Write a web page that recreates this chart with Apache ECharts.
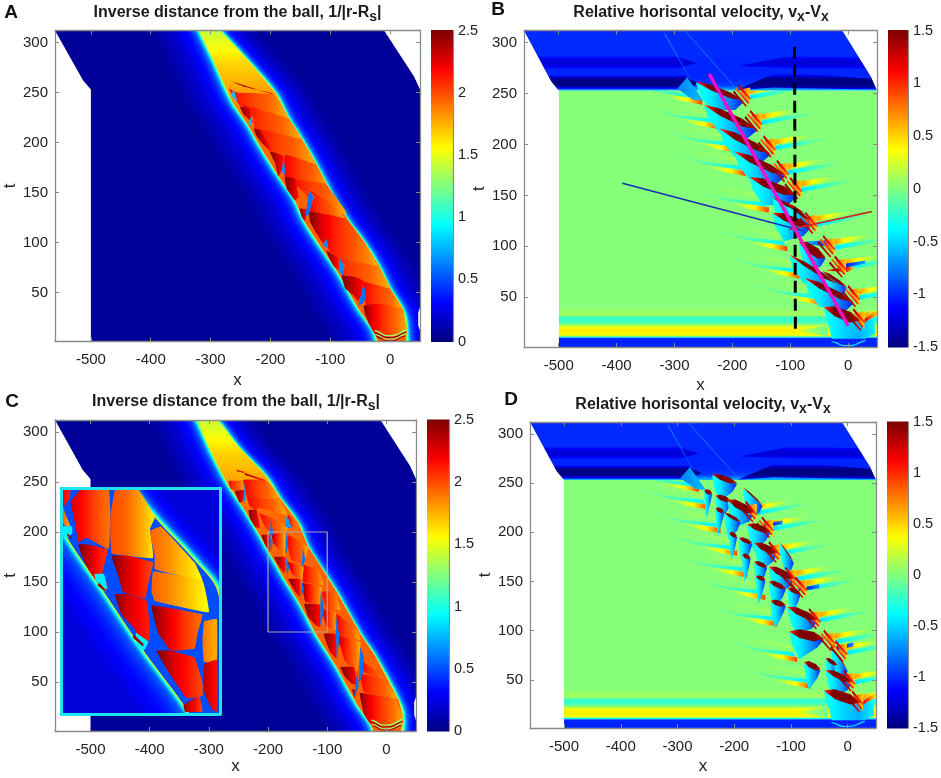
<!DOCTYPE html>
<html>
<head>
<meta charset="utf-8">
<title>Ball trajectories</title>
<script src="https://cdn.jsdelivr.net/npm/echarts@6/dist/echarts.min.js"></script>
<style>
html, body { margin: 0; background: #fff; }
#chart { width: 941px; height: 778px; }
canvas { filter: blur(0.45px); }
</style>
</head>
<body>
<div id="chart"></div>
<script>
// axis ticks
const xTicks = [-500, -400, -300, -200, -100, 0];
const tTicks = [50, 100, 150, 200, 250, 300];
const distTicks = [0, 0.5, 1, 1.5, 2, 2.5];
const velTicks = [-1.5, -1, -0.5, 0, 0.5, 1, 1.5];

// regions of the fields: [value(s), [x,t, x,t, ...], gradient axis]
// several values = gradient along x (or t), null = outside the domain
const deep = [2.5, 2.25, 2.1, 2.0, 1.9, 1.75];
const warm = [2.2, 2.05, 1.95, 1.75];
const tip = [2.5, 2.35, 2.15];

const domainOutline = [-560, 312, 50, 312, 50, 1, -560, 1];
const domainMask = [
  [null, [-560, 312, -513, 262, -500, 253, -500, 1, -560, 1]],
  [null, [-10, 312, 40, 266, 50, 253, 50, 312]]
];

// contours of the glow around the trail: level and distance from the trail's edge
const glowLevels = [0.09, 0.12, 0.15, 0.18, 0.21, 0.24, 0.27, 0.3, 0.33, 0.36, 0.4, 0.45, 0.5, 0.55, 0.62, 0.7, 0.78, 0.86, 0.95, 1.05, 1.15, 1.25, 1.35];
const glowLeft = [80, 70, 60, 52, 45, 39, 33, 28, 24, 20, 17, 14, 11.5, 9.5, 8, 6.5, 5.2, 4, 3.2, 2.5, 1.8, 1.2, 0.8];
const glowRight = [60, 52, 45, 39, 34, 29, 25, 21, 18, 15, 13, 11, 9, 7.5, 6.2, 5, 4, 3.2, 2.5, 1.9, 1.4, 1, 0.6];

// panel A
const aEdgeLeft = [-341, 340, -319, 312, -296, 283, -263, 240, -238, 218, -213, 192, -187, 167, -159, 142, -142, 120, -114, 94, -89, 72, -54, 35, -28, 12, -12, -10];
const aEdgeRight = [-327, 340, -284, 312, -239, 283, -192, 250, -171, 226, -147, 203, -125, 180, -95, 146, -70, 122, -45, 102, -20, 78, 0, 54, 22, 32, 28, 12, 24, -10];
const bodyValues = [1.95, 1.95, 1.95, 1.95, 1.92, 1.65, 1.2];
const aSheets = [
  [warm, [-270, 254, -256, 250, -194, 248, -170, 224, -251, 237]],
  [warm, [-248, 238, -170, 224, -148, 203, -226, 214, -228, 224]],
  [warm, [-226, 214, -148, 203, -125, 178, -173, 188, -201, 191]],
  [warm, [-176, 188, -125, 178, -103, 154, -134, 149, -176, 167]],
  [warm, [-167, 163, -109, 159, -72, 129, -123, 129, -142, 149]],
  [warm, [-134, 152, -100, 139, -75, 124, -135, 131, -125, 146]],
  [deep, [-135, 131, -75, 124, -45, 102, -20, 76, -84, 84, -102, 92, -106, 103, -112, 99, -125, 111, -134, 121]],
  [warm, [-102, 92, -84, 84, -20, 76, 0, 54, -45, 62, -81, 67, -75, 77]],
  [warm, [-45, 61, 0, 53, 21, 34, -17, 39, -40, 37, -44, 49]],
  [deep, [-44, 37, -17, 39, 19, 33, 29, 12, 19, 4, -20, 4, -34, 17, -42, 29]],
  [[2.45, 2.2], [-265, 261, -195, 248, -198, 249.5, -245, 256]],
  [tip, [-251, 236, -237, 234, -228, 219, -245, 228]],
  [tip, [-228, 214, -217, 212, -198, 192, -209, 196, -223, 206]],
  [tip, [-201, 191, -178, 187, -181, 172, -187, 166, -192, 179]],
  [tip, [-176, 166, -159, 164, -153, 146, -159, 142, -173, 154]],
  [tip, [-151, 134, -139, 133, -142, 121, -148, 126]],
  [tip, [-106, 92, -86, 84, -86, 72, -95, 77, -103, 86]],
  [tip, [-81, 67, -61, 66, -45, 62, -47, 49, -53, 41, -61, 47, -75, 54]]
];
const aNotches = [
  [0.8, [-262, 254, -255, 241, -265, 246]],
  [0.8, [-231, 227, -231, 216, -237, 219]],
  [0.65, [-178, 187, -181, 171, -175, 167]],
  [0.6, [-135, 152, -142, 125, -135, 129, -128, 146]],
  [0.65, [-106, 104, -112, 97, -104, 94]],
  [0.65, [-84, 84, -86, 72, -79, 67, -77, 77]],
  [0.6, [-44, 59, -53, 37, -45, 39, -40, 46]]
];
const ballArcs = [
  [1.3, [-25, 12.5, 0, 7.5, 28, 13.5, 28, 12.3, 0, 6.2, -25, 11.2], 'x', 0.6],
  [2.45, [-25, 10.6, 0, 5.6, 27, 11, 27, 10, 0, 4.6, -25, 9.6], 'x', 0.6],
  [1.3, [-24, 8.6, 0, 3.8, 26, 9, 26, 8, 0, 2.8, -24, 7.4], 'x', 0.6],
  [2.45, [-22, 6.6, 0, 2.2, 24, 7, 24, 6, 0, 1.4, -22, 5.6], 'x', 0.6]
];

// panel C
const cEdgeLeft = [-345, 340, -320, 312, -300, 285, -281, 262, -264, 244, -247, 229, -219, 202, -197, 179, -174, 155, -146, 128, -117, 96, -84, 65, -50, 28, -27, 8, -12, -10];
const cEdgeRight = [-325, 340, -285, 312, -250, 285, -205, 257, -180, 234, -149, 209, -132, 185, -86, 142, -44, 98, -19, 76, 21, 31, 29, 13, 20, -10];
const cSheets = [
  [warm, [-267, 251, -239, 251, -239, 242, -256, 241, -264, 244]],
  [warm, [-242, 252, -205, 252, -180, 234, -236, 236]],
  [warm, [-236, 236, -208, 234, -180, 232, -168, 217, -214, 224, -222, 222, -231, 226]],
  [warm, [-215, 219, -194, 214, -166, 205, -171, 200, -197, 200, -205, 205]],
  [warm, [-166, 217, -149, 207, -166, 204]],
  [warm, [-166, 197, -132, 185, -140, 169, -160, 172, -168, 189]],
  [warm, [-140, 167, -115, 162, -106, 147, -140, 150]],
  [warm, [-109, 140, -86, 140, -78, 122, -101, 123]],
  [warm, [-84, 118, -47, 100, -44, 92, -84, 98]],
  [warm, [-41, 71, -5, 55, 1, 51, -38, 60]],
  [warm, [-44, 58, -2, 53, 18, 33, -38, 40]],
  [deep, [-194, 198, -171, 199, -171, 175, -177, 179, -191, 189]],
  [deep, [-167, 170, -140, 165, -143, 152, -151, 154, -160, 159]],
  [deep, [-141, 149, -109, 145, -112, 128, -137, 130, -140, 138]],
  [deep, [-109, 123, -86, 120, -84, 102, -101, 105]],
  [deep, [-84, 97, -44, 90, -49, 61, -55, 63, -70, 71, -75, 81]],
  [deep, [-45, 39, 15, 33, 29, 13, 18, 3, -27, 8, -38, 18]],
  [tip, [-256, 241, -239, 242, -242, 231, -248, 229]],
  [tip, [-233, 222, -219, 222, -214, 204, -222, 205, -231, 214]],
  [tip, [-211, 197, -197, 197, -197, 180, -205, 187]],
  [tip, [-190, 175, -171, 175, -171, 159, -180, 164]],
  [tip, [-166, 153, -146, 153, -146, 135, -154, 140]],
  [tip, [-139, 128, -112, 127, -112, 105, -120, 107, -132, 115]],
  [tip, [-106, 98, -86, 98, -84, 73, -95, 80]],
  [tip, [-78, 65, -55, 65, -49, 48, -58, 48, -70, 55]],
  [tip, [-58, 43, -50, 41, -54, 34]],
  [[2.4, 2.1], [-253, 262, -239, 260, -240, 259, -253, 261]],
  [[2.4, 2.1], [-239, 259, -205, 252, -206, 251, -239, 257]]
];
const cGaps = [
  [0.7, [-239, 251, -242, 229, -237, 232]],
  [0.6, [-195, 213, -197, 197, -191, 197]],
  [0.6, [-197, 197, -195, 180, -192, 189]],
  [0.6, [-169, 200, -171, 175, -166, 187]],
  [0.6, [-170, 175, -168, 157, -164, 165]],
  [0.6, [-141, 184, -143, 165, -137, 172]],
  [0.6, [-143, 152, -145, 135, -139, 143]],
  [0.6, [-111, 142, -112, 105, -105, 122]],
  [0.6, [-86, 118, -84, 73, -79, 95]],
  [0.6, [-44, 85, -47, 48, -40, 58, -38, 75]],
  [0.6, [-49, 61, -55, 35, -47, 45]],
  [0.7, [-168, 217, -160, 204, -172, 205]]
];

// zoomed part of panel C, the small box and the big inset
const zoomBoxX = [-200, -100, -100, -200, -200];
const zoomBoxT = [100, 100, 200, 200, 100];
const insetRangeX = [-200, -100];
const insetRangeT = [100, 200];
const insetGround = 0.22;
const insetLevels = [0.25, 0.28, 0.31, 0.34, 0.37, 0.4, 0.44, 0.48, 0.53, 0.6, 0.7, 0.8, 0.9, 1, 1.1, 1.2, 1.3, 1.4, 1.5, 1.6];
const insetLeft = [30, 26, 22, 18, 15, 12.5, 10, 8, 6, 4.5, 3.5, 2.8, 2.2, 1.8, 1.4, 1.1, 0.8, 0.6, 0.4, 0.2];
const insetRight = [18, 15.5, 13, 11, 9.5, 8, 7, 6, 5.2, 4.5, 3.8, 3.2, 2.7, 2.2, 1.8, 1.4, 1.1, 0.8, 0.5, 0.3];
const insetEdgeLeft = [-232, 215, -212, 200, -196, 178, -173, 154, -148, 128, -119, 100, -105, 80];
const insetEdgeRight = [-172, 215, -156, 200, -141, 187, -116, 168, -101, 153, -95, 100, -80, 80];
const insetSheets = [
  [[2.2, 2.1], [-199, 199, -194, 199, -195, 195, -198, 192]],
  [[1.95, 1.75], [-199, 192, -197, 188, -194, 183, -197, 183, -199, 185]],
  [0.9, [-199, 183, -193, 183, -193, 180, -196, 178, -199, 179]],
  [[2.3, 2.15, 2.0, 1.9], [-194, 194, -188, 199, -170, 199, -169, 190, -170, 173, -184, 178, -189, 176, -191, 184]],
  [[2.5, 2.35, 2.15, 2.05], [-189, 175, -183, 175, -171, 173, -171, 171, -174, 162, -170, 156, -173, 154, -176, 157, -182, 163, -187, 170]],
  [0.9, [-179, 162, -173, 162, -171, 156, -173, 154, -178, 159]],
  [[2.0, 1.95, 1.8, 1.6], [-169, 187, -166, 199, -151, 199, -141, 187, -144, 182, -142, 169, -168, 171, -169, 179]],
  [[2.5, 2.3, 2.15, 2.0], [-168, 170, -158, 170, -142, 167, -145, 158, -147, 151, -161, 154, -164, 161, -167, 167]],
  [[2.5, 2.3, 2.2, 2.1], [-166, 153, -158, 153, -146, 150, -144, 136, -145, 132, -150, 132, -154, 138, -162, 144]],
  [0.9, [-153, 136, -145, 132, -148, 128, -152, 130]],
  [[1.95, 1.85, 1.7, 1.55], [-144, 181, -137, 183, -116, 167, -111, 159, -141, 164, -141, 170]],
  [[1.95, 1.85, 1.7, 1.55], [-142, 163, -111, 159, -107, 145, -141, 150, -143, 154]],
  [[2.5, 2.25, 2.05, 1.9], [-143, 148, -111, 144, -114, 136, -116, 129, -131, 128, -139, 136]],
  [[2.5, 2.3, 2.15, 2.0], [-140, 128, -131, 128, -116, 125, -111, 114, -111, 108, -121, 107, -131, 117]],
  [[1.9, 1.75], [-110, 141, -102, 142, -102, 123, -110, 123, -111, 132]],
  [[2.35, 2.15], [-110, 122, -102, 124, -102, 101, -105, 102, -110, 110]],
  [[2.45, 2.0], [-123, 104, -113, 108, -111, 101, -122, 101]],
  [2.45, [-196, 180, -193, 178, -193, 177.5, -196, 179]],
  [2.45, [-176, 158, -172, 155, -172.5, 154.5, -177, 157]],
  [2.45, [-154, 135, -148, 131, -148.5, 130, -155, 134]]
];

// panel B and D: background strips
const velTopValues = [-0.55, -0.95, -1.0, -1.02, -1.02, -1.02, -1.02, -1.0, -1.0, -1.0, -1.0, -1.0, -1.0];
const velStripValues = [-0.7, 0.25, 0.4, 0.42, 0.42, 0.38, 0.12, -0.05, -0.2, -0.22, -0.2, 0.05, 0.1, 0.08, 0.04, 0.02];
const darkStripe = [-0.9, -1.45, -1.5, -1.45, -1.02];
const faintStripe = [-1.02, -1.2, -1.25, -1.2, -1.02];
const velGround = [
  [0.02, [-500, 10, 50, 10, 50, 253, -500, 253]],
  [-1.02, [-500, 1, 50, 1, 50, 10, -500, 10]],
  [velStripValues, [-500, 10, 50, 10, 50, 40, -500, 40], 't'],
  [[0.42, 0.1, -0.05], [-95, 17, -35, 12, -35, 22]]
];
const velUpper = [
  [velTopValues, [-560, 253, 50, 253, 50, 312, -560, 312], 't'],
  [darkStripe, [-560, 254, -285, 254, -258, 260, -285, 268, -560, 268], 't'],
  [darkStripe, [-195, 253, -130, 256, -60, 255, 50, 254, 50, 264, -60, 269, -130, 269], 't'],
  [faintStripe, [-560, 274, -300, 274, -262, 280, -300, 287, -560, 287], 't'],
  [faintStripe, [-190, 277, -100, 275, 50, 274, 50, 285, -100, 287], 't'],
  [[-0.75, -0.55], [-295, 255, -278, 266, -250, 243, -268, 244]],
  [[-0.7, -0.85], [-318, 309, -272, 263, -271, 263, -316, 309]],
  [[-0.8, -0.65], [-283, 312, -197, 257, -196, 257, -281, 312]]
];
const velFoot = [
  [[-0.35, -0.5, -0.6, -0.4], [-36, 27, -28, 9, 30, 9, 47, 14, 45, 27]],
  [-0.45, [-28, 7, 0, 3, 30, 8, 30, 7, 0, 2, -28, 6], 'x', 0.6]
];

// panel B
const bStreaks = [
  [-263, 262, -180, 243, 6], [-249, 239, -157, 215, 8], [-223, 216, -134, 191, 8], [-197, 193, -108, 170, 8],
  [-171, 168, -88, 150, 9], [-131, 148, -76, 133, 4], [-105, 142, -65, 125, 4], [-131, 133, -65, 119, 8],
  [-85, 104, -39, 89, 11], [-102, 92, -19, 63, 5], [-45, 76, -2, 60, 4], [-76, 69, 10, 45, 7], [-42, 40, 21, 27, 11]
];
const bLeftTips = [[-255, 241], [-226, 217], [-197, 194], [-180, 171], [-140, 135], [-108, 97], [-85, 70], [-48, 44]];
const bRightTips = [[-174, 247], [-154, 222], [-131, 197], [-108, 173], [-85, 156], [-59, 122], [-28, 99], [-8, 79], [15, 50], [24, 27]];
const bExtras = [
  [[0.5, 1.3, 1.2, 0.4], [-42, 76, 0, 80, 13, 79, 0, 75]],
  [[1.4, 0.9, 0.5], [24, 27, 50, 37, 50, 32, 27, 25]],
  [[-0.5, -1.1], [-70, 105, -30, 106, -35, 100, -75, 102]],
  [[-1.2, -0.6], [-15, 82, 30, 86, 30, 83, -15, 78]]
];
// annotation lines of panel B
const dashedX = [-92.5, -91];
const dashedT = [296, 15];
const magentaX = [-240, 0];
const magentaT = [269.5, 22];
const blueX = [-390, -77];
const blueT = [162, 115];
const redX = [41, -102];
const redT = [134, 116.5];

// panel D
const dStreaks = [
  [-239, 259, -195, 250, 6], [-253, 242, -239, 240, 5], [-233, 237, -206, 232, 6], [-212, 233, -165, 220, 9],
  [-233, 224, -218, 221, 5], [-218, 220, -189, 211, 4], [-177, 208, -136, 201, 7], [-209, 199, -195, 196, 5],
  [-192, 194, -168, 189, 5], [-165, 189, -124, 179, 8], [-186, 177, -171, 174, 5], [-165, 170, -142, 165, 5],
  [-139, 165, -95, 153, 8], [-162, 155, -145, 152, 5], [-139, 150, -109, 143, 6], [-106, 143, -83, 138, 5],
  [-136, 130, -109, 126, 6], [-106, 124, -53, 111, 8], [-103, 99, -42, 92, 10], [-77, 68, -48, 61, 7],
  [-39, 72, -18, 65, 5], [-39, 60, 8, 48, 7], [-42, 39, 23, 27, 11],
  [-185, 246, -150, 228, 2], [-120, 190, -95, 170, 2], [-30, 85, 0, 60, 2]
];
const dLeftTips = [[-265, 242], [-250, 225], [-227, 201], [-198, 178], [-180, 156], [-148, 133], [-127, 106], [-92, 70], [-68, 43]];
const dRightTips = [[-165, 220], [-136, 204], [-124, 179], [-95, 153], [-77, 143], [-53, 111], [-27, 89], [-6, 78], [8, 48], [23, 27]];
const dExtras = [
  [[1.3, 0.9, 0.4], [23, 27, 50, 37, 50, 32, 27, 25]],
  [[-1.3, -0.7], [-148, 208, -115, 212, -115, 208, -145, 205]],
  [[-1.3, -0.7], [-88, 143, -50, 147, -50, 143, -85, 140]],
  [[-1.3, -0.7], [-20, 84, 10, 88, 10, 84, -18, 80]]
];

const distRange = [0, 2.5];
const velRange = [-1.5, 1.5];
const xRange = [-560, 50];
const tRange = [1, 312];

function jetColor(u) {
  const c = (k) => Math.round(255 * Math.min(1, Math.max(0, 1.5 - Math.abs(4 * u - k))));
  return 'rgb(' + c(3) + ',' + c(2) + ',' + c(1) + ')';
}

// contour polygons from the two edges of the trail
function glow(left, right, levels, offL, offR) {
  return levels.map((level, i) => {
    const pts = [];
    for (let k = 0; k < left.length; k += 2) pts.push(left[k] - offL[i], left[k + 1]);
    for (let k = right.length - 2; k >= 0; k -= 2) pts.push(right[k] + offR[i], right[k + 1]);
    return [level, pts, 'x', 0.35];
  });
}
function bandPolygon(left, right) {
  return glow(left, right, [0], [0], [0])[0][1];
}
// slightly rounded outlines for the sheets of the trail
function soft(list) {
  return list.map((r) => [r[0], r[1], r[2] || 'x', 0.07]);
}

// shapes of the velocity panel, built from the tables of tips and streaks
function leftRays(tips) {
  const out = [];
  tips.forEach(([x, t]) => {
    out.push([[0, 0.04, 0.1], [x - 140, t + 30, x - 5, t + 15, x - 5, t + 11, x - 70, t + 19]]);
    out.push([[0, -0.07, -0.18, -0.45], [x - 135, t + 21, x - 70, t + 12, x - 5, t + 8, x, t + 4, x - 60, t + 8]]);
    out.push([[0.03, 0.15, 0.4, 0.95], [x - 70, t + 9, x - 30, t + 6, x + 3, t + 3, x + 3, t - 2, x - 35, t + 2]]);
  });
  return out;
}
function rightRays(tips) {
  const out = [];
  tips.forEach(([x, t]) => {
    out.push([[0.8, 0.4, 0.15, 0.03], [x - 3, t + 2, x + 6, t + 8, x + 40, t + 11, x + 70, t + 12, x + 35, t + 6]]);
    out.push([[-0.5, -0.25, -0.1, 0], [x, t + 1, x + 50, t + 6, x + 105, t + 10, x + 50, t + 2, x, t - 3]]);
  });
  return out;
}
function wedges(streaks) {
  return streaks.map(([x0, t0, x1, t1]) => {
    const len = x1 - x0;
    return [[-0.3, -0.45, -0.7, -1.05], [x0, t0 - 1, x1, t1 - 1, x1 - 0.18 * len, t1 - 9, x0 + 0.3 * len, t0 - 28, x0 + 0.08 * len, t0 - 13]];
  });
}
function streakShapes(streaks) {
  return streaks.map(([x0, t0, x1, t1, w]) => {
    const at = (f, d) => [x0 + f * (x1 - x0), t0 + f * (t1 - t0) + d];
    return [[0.9, 1.5, 1.5, 1.5, 1.3], [x0, t0, ...at(0.3, w * 0.45), ...at(0.72, w * 0.45), x1, t1, ...at(0.72, -w * 0.5), ...at(0.3, -w * 0.45)]];
  });
}
function fans(tips) {
  const out = [];
  tips.forEach(([x, t]) => {
    out.push([[0.95, 0.5], [x - 13, t + 7, x + 5, t + 9, x + 4, t - 9]]);
    out.push([[1.5, 1.2], [x - 25, t + 4, x - 3, t - 10, x - 1, t - 9, x - 23, t + 6]]);
    out.push([[0.8, 1.1], [x - 21, t + 7, x + 1, t - 7, x + 3, t - 6, x - 19, t + 9]]);
    out.push([[1.4, 0.9], [x - 16, t + 10, x + 4, t - 3, x + 6, t - 2, x - 14, t + 12]]);
  });
  return out;
}

const panelA = [
  [0.06, domainOutline],
  ...glow(aEdgeLeft, aEdgeRight, glowLevels, glowLeft, glowRight),
  [bodyValues, bandPolygon(aEdgeLeft, aEdgeRight), 't'],
  ...soft(aSheets),
  ...aNotches,
  ...ballArcs,
  ...domainMask,
  [null, [50, 35, 47, 30, 47, 17, 50, 12]]
];
const panelC = [
  [0.06, domainOutline],
  ...glow(cEdgeLeft, cEdgeRight, glowLevels, glowLeft, glowRight),
  [bodyValues, bandPolygon(cEdgeLeft, cEdgeRight), 't'],
  ...soft(cSheets),
  ...cGaps,
  ...ballArcs,
  ...domainMask,
  [null, [50, 35, 47, 30, 47, 17, 50, 12]]
];
const panelInset = [
  [insetGround, [-200, 200, -100, 200, -100, 100, -200, 100]],
  ...glow(insetEdgeLeft, insetEdgeRight, insetLevels, insetLeft, insetRight),
  [0.5, bandPolygon(insetEdgeLeft, insetEdgeRight), 'x', 0.35],
  ...soft(insetSheets)
];
const panelB = [
  ...velGround,
  ...leftRays(bLeftTips),
  ...rightRays(bRightTips),
  ...velUpper,
  ...wedges(bStreaks),
  ...velFoot,
  ...bExtras,
  ...fans(bRightTips),
  ...streakShapes(bStreaks),
  ...domainMask
];
const panelD = [
  ...velGround,
  ...leftRays(dLeftTips),
  ...rightRays(dRightTips),
  ...velUpper,
  ...wedges(dStreaks),
  ...velFoot,
  ...dExtras,
  ...fans(dRightTips),
  ...streakShapes(dStreaks),
  ...domainMask
];

const font = '"Liberation Sans", Arial, sans-serif';
const inkColor = '#222';
const frameColor = '#8a8a8a';
const grids = [];
const xAxes = [];
const yAxes = [];
const series = [];

function addFrame(gridIndex, rangeX, rangeT, lineColor, lineWidth, ticksX, ticksT) {
  const line = { show: true, onZero: false, lineStyle: { color: lineColor, width: lineWidth } };
  const base = { type: 'value', gridIndex, z: 6, splitLine: { show: false }, axisLine: line };
  const tickOf = (values) => (values ? { show: true, inside: true, length: 4, customValues: values, lineStyle: { color: frameColor } } : { show: false });
  const first = xAxes.length;
  xAxes.push({ ...base, min: rangeX[0], max: rangeX[1], position: 'bottom', axisTick: tickOf(ticksX), axisLabel: { show: false } });
  xAxes.push({ ...base, min: rangeX[0], max: rangeX[1], position: 'top', axisTick: tickOf(ticksX), axisLabel: { show: false } });
  yAxes.push({ ...base, min: rangeT[0], max: rangeT[1], position: 'left', axisTick: tickOf(ticksT), axisLabel: { show: false } });
  yAxes.push({ ...base, min: rangeT[0], max: rangeT[1], position: 'right', axisTick: tickOf(ticksT), axisLabel: { show: false } });
  return first;
}

function regionSeries(regions, range, axisIndex, z) {
  return {
    type: 'custom',
    xAxisIndex: axisIndex,
    yAxisIndex: axisIndex,
    coordinateSystem: 'cartesian2d',
    clip: true,
    silent: true,
    animation: false,
    z,
    data: regions.map((r, i) => [i]),
    renderItem(params, api) {
      const [vals, flat, axis, round] = regions[params.dataIndex];
      const points = [];
      for (let k = 0; k < flat.length; k += 2) points.push(api.coord([flat[k], flat[k + 1]]));
      const norm = (v) => (v - range[0]) / (range[1] - range[0]);
      let fill;
      if (vals === null) {
        fill = '#fff';
      } else if (!Array.isArray(vals)) {
        fill = jetColor(norm(vals));
      } else {
        const along = axis === 't' ? 1 : 0;
        const coords = points.map((p) => p[along]);
        const a = Math.min(...coords), b = Math.max(...coords);
        const list = along === 1 ? [...vals].reverse() : vals;
        const stops = [];
        const sub = 6;
        for (let i = 0; i < list.length - 1; i++) {
          for (let j = 0; j <= sub; j++) {
            const f = j / sub;
            stops.push({ offset: (i + f) / (list.length - 1), color: jetColor(norm(list[i] + (list[i + 1] - list[i]) * f)) });
          }
        }
        fill = along === 1
          ? new echarts.graphic.LinearGradient(0, a, 0, b, stops, true)
          : new echarts.graphic.LinearGradient(a, 0, b, 0, stops, true);
      }
      return { type: 'polygon', z2: params.dataIndex, shape: { points, smooth: round || 0 }, style: { fill, stroke: 'none' } };
    }
  };
}

function addPanel(box, regions, range) {
  const gridIndex = grids.length;
  grids.push({ left: box[0], top: box[1], width: box[2], height: box[3], containLabel: false });
  const first = addFrame(gridIndex, xRange, tRange, frameColor, 1.3, xTicks, tTicks);
  Object.assign(xAxes[first], {
    name: 'x', nameLocation: 'middle', nameGap: box[4],
    nameTextStyle: { fontFamily: font, fontSize: 17, color: inkColor },
    axisLabel: { show: true, customValues: xTicks, margin: 11, fontFamily: font, fontSize: 15, color: inkColor }
  });
  Object.assign(yAxes[first], {
    name: 't', nameLocation: 'middle', nameGap: box[5],
    nameTextStyle: { fontFamily: font, fontSize: 17, color: inkColor },
    axisLabel: { show: true, customValues: tTicks, margin: 7, fontFamily: font, fontSize: 15, color: inkColor }
  });
  series.push(regionSeries(regions, range, first, 2));
  return first;
}

function addColorbar(box, range, ticks) {
  const gridIndex = grids.length;
  grids.push({ left: box[0], top: box[1], width: box[2], height: box[3] });
  const first = xAxes.length;
  xAxes.push({ type: 'value', gridIndex, min: 0, max: 1, z: 6, show: false });
  yAxes.push({
    type: 'value', gridIndex, min: range[0], max: range[1], position: 'right', z: 6,
    splitLine: { show: false },
    axisLine: { show: true, onZero: false, lineStyle: { color: frameColor, width: 1.2 } },
    axisTick: { show: false },
    axisLabel: { customValues: ticks, margin: 5, fontFamily: font, fontSize: 14.5, color: inkColor }
  });
  const count = 128;
  const step = (range[1] - range[0]) / count;
  const levels = [];
  for (let i = 0; i < count; i++) levels.push(range[0] + i * step);
  series.push({
    type: 'custom', xAxisIndex: first, yAxisIndex: first, silent: true, animation: false, z: 2,
    data: levels.map((v) => [0, v]),
    renderItem(params, api) {
      const v = api.value(1);
      const a = api.coord([0, v]);
      const b = api.coord([1, v + step]);
      return {
        type: 'rect',
        shape: { x: a[0], y: b[1] - 0.5, width: b[0] - a[0], height: a[1] - b[1] + 1 },
        style: { fill: jetColor((v + step / 2 - range[0]) / (range[1] - range[0])) }
      };
    }
  });
}

function addLine(axisIndex, xs, ts, color, width, type, z) {
  series.push({
    type: 'line', xAxisIndex: axisIndex, yAxisIndex: axisIndex, silent: true, animation: false, z: z || 4,
    symbol: 'none',
    data: xs.map((x, i) => [x, ts[i]]),
    lineStyle: { color, width, type: type || 'solid', cap: 'butt' }
  });
}

const axisA = addPanel([55, 30.5, 365, 311, 30, 30], panelA, distRange);
const axisB = addPanel([524, 30.5, 353, 316.5, 30, 30], panelB, velRange);
const axisC = addPanel([55, 420, 361, 311, 24, 30], panelC, distRange);
const axisD = addPanel([530, 422, 346, 306, 30, 30], panelD, velRange);

addColorbar([431, 30.5, 22, 311], distRange, distTicks);
addColorbar([888, 30.5, 21, 316.5], velRange, velTicks);
addColorbar([427, 420, 22, 311], distRange, distTicks);
addColorbar([887, 422, 21, 306], velRange, velTicks);

addLine(axisB, blueX, blueT, '#1a2fb8', 1.6);
addLine(axisB, redX, redT, '#c8281e', 1.6);
addLine(axisB, dashedX, dashedT, '#000', 3, [12, 6]);
addLine(axisB, magentaX, magentaT, '#f010c8', 3.4);

addLine(axisC, zoomBoxX, zoomBoxT, '#a8a8a8', 1.2);

// the inset of panel C has its own axes over the zoomed range
grids.push({ left: 61, top: 488, width: 159, height: 226 });
const axisInset = addFrame(grids.length - 1, insetRangeX, insetRangeT, '#22e4f0', 3);
series.push(regionSeries(panelInset, distRange, axisInset, 8));
[xAxes[axisInset], xAxes[axisInset + 1], yAxes[axisInset], yAxes[axisInset + 1]].forEach((a) => { a.z = 9; });

const titleStyle = {
  fontFamily: font, fontSize: 16, fontWeight: 'bold', color: '#1c1c1c',
  rich: { s: { fontFamily: font, fontSize: 14, fontWeight: 'bold', color: '#1c1c1c', padding: [9, 0, 0, 0] } }
};
const letterStyle = { fontFamily: font, fontSize: 19, fontWeight: 'bold', color: '#111' };
function headline(text, x, y) {
  return { text, left: x, top: y, textAlign: 'center', textVerticalAlign: 'middle', padding: 0, textStyle: titleStyle };
}
function letter(text, x, y) {
  return { text, left: x, top: y, textAlign: 'center', textVerticalAlign: 'middle', padding: 0, textStyle: letterStyle };
}

const chart = echarts.init(document.getElementById('chart'), null, { renderer: 'canvas' });
chart.setOption({
  animation: false,
  backgroundColor: '#fff',
  title: [
    headline('Inverse distance from the ball, 1/|r-R{s|s}|', 237.5, 13),
    headline('Relative horisontal velocity, v{s|x}-V{s|x}', 701, 13),
    headline('Inverse distance from the ball, 1/|r-R{s|s}|', 236, 402),
    headline('Relative horisontal velocity, v{s|x}-V{s|x}', 703, 405),
    letter('A', 11, 13),
    letter('B', 498, 10),
    letter('C', 12, 402),
    letter('D', 511, 400)
  ],
  grid: grids,
  xAxis: xAxes,
  yAxis: yAxes,
  series
});
</script>
</body>
</html>
